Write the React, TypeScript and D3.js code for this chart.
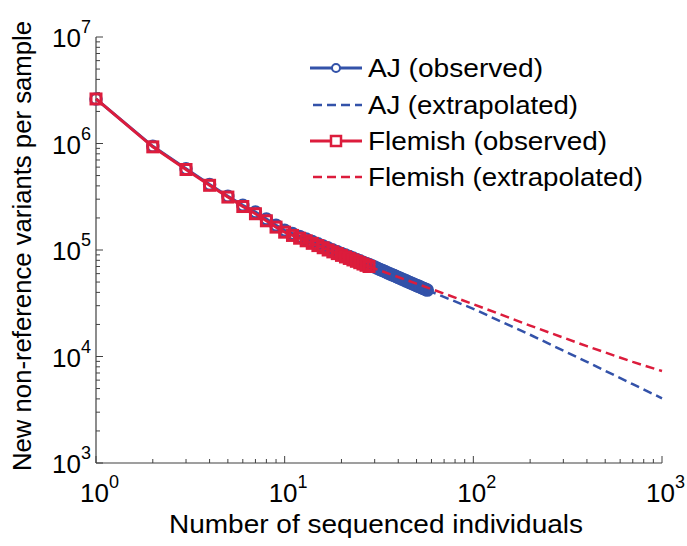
import React from "react";
import * as d3 from "d3";

const ajN: number[] = Array.from({ length: 57 }, (_, i) => i + 1);
const ajObserved: number[] = [
  2.62e6, 9.4e5, 5.8e5, 4.12e5, 3.2e5, 2.63e5, 2.27e5, 1.95e5, 1.71e5, 1.53e5,
  1.428e5, 1.342e5, 1.267e5, 1.201e5, 1.143e5, 1.091e5, 1.044e5, 1.002e5, 9.64e4, 9.29e4,
  8.97e4, 8.68e4, 8.4e4, 8.15e4, 7.91e4, 7.69e4, 7.48e4, 7.29e4, 7.1e4, 6.91e4,
  6.74e4, 6.57e4, 6.42e4, 6.27e4, 6.13e4, 6.0e4, 5.87e4, 5.75e4, 5.64e4, 5.53e4,
  5.42e4, 5.32e4, 5.23e4, 5.13e4, 5.04e4, 4.96e4, 4.88e4, 4.8e4, 4.72e4, 4.65e4,
  4.58e4, 4.51e4, 4.44e4, 4.38e4, 4.32e4, 4.26e4, 4.2e4,
];
const flN: number[] = Array.from({ length: 28 }, (_, i) => i + 1);
const flObserved: number[] = [
  2.62e6, 9.3e5, 5.7e5, 4.05e5, 3.14e5, 2.56e5, 2.19e5, 1.88e5, 1.64e5, 1.47e5,
  1.37e5, 1.29e5, 1.22e5, 1.155e5, 1.1e5, 1.05e5, 1.0e5, 9.6e4, 9.25e4, 8.9e4,
  8.6e4, 8.33e4, 8.07e4, 7.83e4, 7.6e4, 7.38e4, 7.18e4, 7.0e4,
];
const ajExtN: number[] = [57, 100, 200, 400, 700, 1000];
const ajExtrapolated: number[] = [4.2e4, 2.8e4, 1.6e4, 8.9e3, 5.5e3, 4.05e3];
const flExtN: number[] = [28, 100, 200, 400, 700, 1000];
const flExtrapolated: number[] = [7.0e4, 3.1e4, 1.95e4, 1.25e4, 8.9e3, 7.3e3];

const xTickExps: number[] = [0, 1, 2, 3];
const yTickExps: number[] = [3, 4, 5, 6, 7];
const legendLabels: string[] = [
  "AJ (observed)",
  "AJ (extrapolated)",
  "Flemish (observed)",
  "Flemish (extrapolated)",
];
const legendWidths: number[] = [175, 210, 239, 275];

const BLUE = "#3352a9";
const RED = "#dc1c3c";
const AXIS = "#404040";
const FONT = "'Liberation Sans', Arial, sans-serif";

export default function App() {
  const W = 687;
  const H = 546;
  const x = d3.scaleLog().domain([1, 1000]).range([96, 662]);
  const y = d3.scaleLog().domain([1e3, 1e7]).range([463, 37]);
  const line = d3
    .line<[number, number]>()
    .x((d) => x(d[0]))
    .y((d) => y(d[1]));

  const ajObs: [number, number][] = ajN.map((n, i) => [n, ajObserved[i]]);
  const flObs: [number, number][] = flN.map((n, i) => [n, flObserved[i]]);
  const ajExt: [number, number][] = ajExtN.map((n, i) => [n, ajExtrapolated[i]]);
  const flExt: [number, number][] = flExtN.map((n, i) => [n, flExtrapolated[i]]);

  const minorX: number[] = [];
  for (let e = 0; e < 3; e++) for (let k = 2; k <= 9; k++) minorX.push(k * Math.pow(10, e));
  const minorY: number[] = [];
  for (let e = 3; e < 7; e++) for (let k = 2; k <= 9; k++) minorY.push(k * Math.pow(10, e));

  const x0 = x(1);
  const y0 = y(1e3);
  const xr = x(1000);
  const yt = y(1e7);

  const legendRowY = [68, 105, 141, 177];

  return (
    <svg width={W} height={H} style={{ position: "absolute", left: 0, top: 0, background: "#fff" }} fontFamily={FONT}>
      <rect x={0} y={0} width={W} height={H} fill="#fff" />
      {/* axes */}
      <line x1={x0} y1={yt} x2={x0} y2={y0} stroke={AXIS} strokeWidth={1.2} />
      <line x1={x0} y1={y0} x2={xr} y2={y0} stroke={AXIS} strokeWidth={1.2} />
      {xTickExps.map((e) => (
        <line key={"xM" + e} x1={x(Math.pow(10, e))} x2={x(Math.pow(10, e))} y1={y0} y2={y0 - 7} stroke={AXIS} strokeWidth={1} />
      ))}
      {minorX.map((v) => (
        <line key={"xm" + v} x1={x(v)} x2={x(v)} y1={y0} y2={y0 - 4} stroke={AXIS} strokeWidth={1} />
      ))}
      {yTickExps.map((e) => (
        <line key={"yM" + e} x1={x0} x2={x0 + 7} y1={y(Math.pow(10, e))} y2={y(Math.pow(10, e))} stroke={AXIS} strokeWidth={1} />
      ))}
      {minorY.map((v) => (
        <line key={"ym" + v} x1={x0} x2={x0 + 4} y1={y(v)} y2={y(v)} stroke={AXIS} strokeWidth={1} />
      ))}
      {/* tick labels */}
      {xTickExps.map((e) => (
        <text key={"xl" + e} x={x(Math.pow(10, e)) - 16} y={502} fontSize={26} fill="#000">
          10
          <tspan fontSize={18} dy={-14}>
            {e}
          </tspan>
        </text>
      ))}
      {yTickExps.map((e) => (
        <text key={"yl" + e} x={52} y={y(Math.pow(10, e)) + 10} fontSize={26} fill="#000">
          10
          <tspan fontSize={18} dy={-14}>
            {e}
          </tspan>
        </text>
      ))}
      {/* axis titles */}
      <text x={376} y={533} fontSize={26} textAnchor="middle" textLength={414} lengthAdjust="spacingAndGlyphs" fill="#000">
        Number of sequenced individuals
      </text>
      <text transform="translate(31,246) rotate(-90)" fontSize={26} textAnchor="middle" textLength={450} lengthAdjust="spacingAndGlyphs" fill="#000">
        New non-reference variants per sample
      </text>

      {/* AJ observed */}
      <path d={line(ajObs) || ""} fill="none" stroke={BLUE} strokeWidth={3} />
      {ajObs.map((d, i) => (
        <circle key={"ac" + i} cx={x(d[0])} cy={y(d[1])} r={5.5} fill="none" stroke={BLUE} strokeWidth={2.5} />
      ))}
      {/* AJ extrapolated */}
      <path d={line(ajExt) || ""} fill="none" stroke={BLUE} strokeWidth={2.5} strokeDasharray="9,5" />
      {/* Flemish observed */}
      <path d={line(flObs) || ""} fill="none" stroke={RED} strokeWidth={3} />
      {flObs.map((d, i) => (
        <rect key={"fs" + i} x={x(d[0]) - 5} y={y(d[1]) - 5} width={10} height={10} fill="none" stroke={RED} strokeWidth={3} />
      ))}
      {/* Flemish extrapolated */}
      <path d={line(flExt) || ""} fill="none" stroke={RED} strokeWidth={2.5} strokeDasharray="9,5" />

      {/* legend */}
      <line x1={310} x2={362} y1={legendRowY[0]} y2={legendRowY[0]} stroke={BLUE} strokeWidth={3} />
      <circle cx={336} cy={legendRowY[0]} r={4} fill="#fff" stroke={BLUE} strokeWidth={2} />
      <line x1={313} x2={362} y1={legendRowY[1]} y2={legendRowY[1]} stroke={BLUE} strokeWidth={2.5} strokeDasharray="9,5" />
      <line x1={310} x2={362} y1={legendRowY[2]} y2={legendRowY[2]} stroke={RED} strokeWidth={3} />
      <rect x={331} y={legendRowY[2] - 5} width={10} height={10} fill="#fff" stroke={RED} strokeWidth={2.5} />
      <line x1={313} x2={362} y1={legendRowY[3]} y2={legendRowY[3]} stroke={RED} strokeWidth={2.5} strokeDasharray="9,5" />
      {legendLabels.map((t, i) => (
        <text key={"lg" + i} x={368} y={legendRowY[i] + 9} fontSize={26} textLength={legendWidths[i]} lengthAdjust="spacingAndGlyphs" fill="#000">
          {t}
        </text>
      ))}
    </svg>
  );
}
